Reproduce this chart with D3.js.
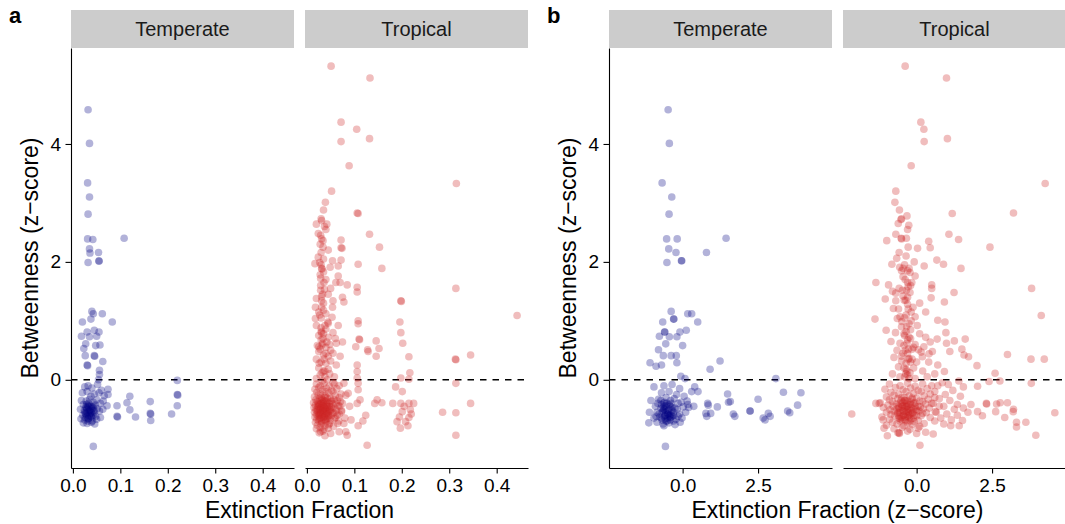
<!DOCTYPE html>
<html>
<head>
<meta charset="utf-8">
<title>Betweenness vs extinction fraction</title>
<script src="https://cdnjs.cloudflare.com/ajax/libs/d3/7.8.5/d3.min.js"></script>
<style>
  body { margin: 0; background: #fff; }
  text { font-family: "Liberation Sans", Arial, Helvetica, sans-serif; }
</style>
</head>
<body>
<div id="chart"></div>
<script>
// facets and ticks
var regions = ["Temperate", "Tropical"];
var fracTicks = [0, 0.1, 0.2, 0.3, 0.4];
var zTicks = [0, 2.5];
var btwTicks = [0, 2, 4];

// [extinction fraction, betweenness z]
var temperateFrac = [
  [0.032,4.58],[0.035,4.01],[0.031,3.34],[0.035,3.10],[0.032,2.81],[0.031,2.39],[0.042,2.38],[0.108,2.40],
  [0.035,2.22],[0.036,2.15],[0.054,2.16],[0.055,2.02],[0.055,2.01],[0.032,1.99],
  [0.040,1.16],[0.043,1.12],[0.062,1.12],[0.038,1.03],[0.020,0.98],[0.083,0.98],[0.030,0.81],[0.045,0.84],
  [0.055,0.81],[0.018,0.74],[0.035,0.73],[0.050,0.74],[0.027,0.61],[0.048,0.58],[0.023,0.53],[0.057,0.59],
  [0.045,0.41],[0.046,0.40],[0.026,0.41],[0.063,0.31],[0.030,0.25],[0.031,0.24],[0.056,0.16],[0.056,0.09],[0.054,0.00],
  [0.220,-0.01],[0.220,-0.25],[0.221,-0.26],[0.220,-0.44],[0.208,-0.58],[0.163,-0.37],[0.163,-0.57],[0.164,-0.58],
  [0.164,-0.69],[0.120,-0.28],[0.114,-0.39],[0.120,-0.51],[0.132,-0.63],[0.093,-0.44],[0.093,-0.62],[0.094,-0.63],
  [0.074,-0.16],[0.074,-0.25],[0.072,-0.44],[0.043,-1.13],
  [0.025,-0.12],[0.032,-0.10],[0.040,-0.14],[0.052,-0.08],[0.060,-0.18],[0.020,-0.22],[0.030,-0.20],[0.045,-0.24],
  [0.055,-0.22],[0.066,-0.27],[0.038,-0.28],[0.018,-0.35],[0.028,-0.36],[0.035,-0.33],[0.043,-0.38],[0.050,-0.34],
  [0.058,-0.40],[0.064,-0.36],[0.022,-0.42],[0.031,-0.44],[0.039,-0.45],[0.047,-0.43],[0.016,-0.50],[0.024,-0.52],
  [0.029,-0.48],[0.034,-0.53],[0.040,-0.50],[0.045,-0.55],[0.051,-0.49],[0.056,-0.53],[0.063,-0.50],[0.027,-0.57],
  [0.036,-0.58],[0.043,-0.60],[0.021,-0.60],[0.030,-0.62],[0.038,-0.55],[0.048,-0.62],[0.017,-0.66],[0.025,-0.68],
  [0.033,-0.66],[0.041,-0.70],[0.050,-0.67],[0.058,-0.64],[0.022,-0.73],[0.030,-0.74],[0.039,-0.72],[0.046,-0.75],
  [0.027,-0.46],[0.033,-0.40],[0.042,-0.48],[0.034,-0.61],[0.026,-0.64],[0.040,-0.64],[0.036,-0.45],[0.030,-0.55],
  [0.044,-0.52],[0.032,-0.70],
  [0.030,-0.50],[0.036,-0.52],[0.028,-0.58],[0.040,-0.57],[0.033,-0.46],[0.025,-0.55],[0.038,-0.62],[0.032,-0.66],
  [0.043,-0.45],[0.029,-0.42]
];

// [extinction fraction z, betweenness z]
var temperateZ = [
  [-0.48,4.58],[-0.44,4.01],[-0.68,3.34],[-0.36,3.10],[-0.45,2.81],[-0.53,2.39],[-0.18,2.39],[1.44,2.40],
  [-0.46,2.22],[-0.22,2.16],[0.79,2.16],[-0.04,2.02],[-0.03,2.02],[-0.52,1.99],
  [-0.38,1.16],[0.17,1.12],[0.30,1.12],[-0.30,1.03],[-0.29,1.03],[-0.66,0.98],[0.50,0.98],[-0.60,0.81],
  [-0.59,0.81],[-0.09,0.81],[0.12,0.84],[-0.77,0.74],[-0.44,0.73],[-0.19,0.73],[-0.56,0.61],[0.00,0.58],
  [-0.80,0.51],[-0.64,0.41],[-0.38,0.41],[-0.21,0.41],[-0.19,0.29],[-1.08,0.29],[-0.88,0.23],[-0.70,0.25],
  [0.91,0.18],[1.24,0.32],[-0.06,0.06],[0.08,0.02],[3.09,0.02],
  [3.34,-0.21],[3.92,-0.22],[1.49,-0.24],[0.30,-0.20],[0.51,-0.20],[0.40,-0.12],[2.50,-0.33],[1.52,-0.38],
  [1.58,-0.37],[0.83,-0.40],[1.15,-0.46],[3.81,-0.43],[3.48,-0.53],[2.23,-0.53],[2.24,-0.53],[1.68,-0.58],
  [0.77,-0.57],[0.93,-0.57],[2.84,-0.57],[2.67,-0.65],[-0.57,-1.13],[0.17,-0.42],[0.37,-0.45],[0.85,-0.43],
  [0.80,-0.62],[1.73,-0.62],[2.73,-0.68],[2.90,-0.62],[3.55,-0.56],
  [-0.95,-0.12],[-0.62,-0.10],[-0.35,-0.08],[-0.10,-0.15],[-0.70,-0.22],[-0.45,-0.20],[-0.20,-0.25],[0.05,-0.28],
  [-1.05,-0.35],[-0.80,-0.33],[-0.60,-0.38],[-0.40,-0.35],[-0.15,-0.40],[0.15,-0.36],[-0.90,-0.45],[-0.72,-0.48],
  [-0.55,-0.44],[-0.35,-0.47],[-0.18,-0.50],[0.02,-0.46],[-1.10,-0.55],[-0.85,-0.55],[-0.65,-0.53],[-0.50,-0.58],
  [-0.30,-0.55],[-0.10,-0.58],[0.10,-0.55],[-0.95,-0.65],[-0.75,-0.63],[-0.58,-0.66],[-0.40,-0.64],[-0.22,-0.67],
  [-0.02,-0.65],[-1.12,-0.73],[-0.85,-0.72],[-0.65,-0.75],[-0.45,-0.73],[-0.25,-0.76],[-0.08,-0.72],[-0.70,-0.42],
  [-0.62,-0.50],[-0.58,-0.60],[-0.48,-0.52],[-0.42,-0.60],[-0.78,-0.58],[-0.68,-0.68],[-0.52,-0.70],[-0.35,-0.62],
  [-0.55,-0.30],[-0.28,-0.32],[-0.82,-0.40],[-0.30,-0.70],[-0.15,-0.62],[-0.72,-0.35],[-0.45,-0.42],[-0.60,-0.45],
  [-0.88,-0.62],[0.20,-0.47],[-0.05,-0.38],[-0.62,-0.78],
  [-0.65,-0.48],[-0.55,-0.55],[-0.45,-0.50],[-0.38,-0.58],[-0.60,-0.62],[-0.50,-0.65],[-0.40,-0.45],[-0.30,-0.60],
  [-0.68,-0.55],[-0.52,-0.40],[-0.42,-0.68],[-0.58,-0.52],[-0.35,-0.52],[-0.62,-0.40],[-0.48,-0.58],[-0.25,-0.48],
  [-0.70,-0.65],[-0.55,-0.70],[-0.45,-0.62],[-0.38,-0.40]
];

var tropicalFrac = [
  [0.051,5.32],[0.133,5.12],[0.072,4.37],[0.105,4.25],[0.072,4.04],[0.132,4.09],[0.089,3.63],[0.315,3.33],
  [0.052,3.20],[0.039,3.01],[0.035,2.88],[0.106,2.83],[0.108,2.82],[0.030,2.73],[0.031,2.70],[0.020,2.64],
  [0.042,2.64],[0.132,2.47],[0.024,2.48],[0.031,2.39],[0.034,2.36],[0.072,2.37],[0.072,2.24],[0.074,2.23],
  [0.153,2.25],[0.030,2.16],[0.024,2.08],[0.017,1.97],[0.027,1.99],[0.031,1.89],[0.032,1.88],[0.035,1.83],
  [0.049,1.91],[0.054,2.02],[0.066,1.93],[0.072,2.03],[0.108,1.96],[0.158,1.89],[0.066,1.76],[0.061,1.65],
  [0.070,1.65],[0.085,1.61],[0.029,1.60],[0.029,1.52],[0.037,1.53],[0.031,1.41],[0.031,1.34],[0.106,1.57],
  [0.106,1.49],[0.075,1.40],[0.078,1.32],[0.055,1.34],[0.018,1.23],[0.031,1.23],[0.054,1.23],[0.018,1.04],
  [0.030,1.05],[0.053,1.06],[0.044,0.98],[0.045,0.96],[0.066,0.92],[0.030,0.88],[0.030,0.82],[0.108,1.00],
  [0.108,0.95],[0.198,1.34],[0.199,1.33],[0.314,1.55],[0.443,1.09],[0.196,0.98],[0.198,0.80],[0.202,0.62],
  [0.146,0.66],[0.110,0.69],[0.111,0.68],[0.042,0.64],[0.032,0.59],[0.025,0.56],[0.075,0.64],[0.103,0.56],
  [0.152,0.53],[0.128,0.51],
  [0.106,0.25],[0.106,0.14],[0.129,0.48],[0.146,0.40],[0.215,0.39],[0.217,0.12],[0.198,0.03],[0.215,0.01],
  [0.313,0.35],[0.314,0.34],[0.345,0.42],[0.314,-0.06],[0.345,-0.40],[0.314,-0.56],[0.286,-0.55],[0.314,-0.94],
  [0.187,-0.12],[0.201,-0.20],[0.198,-0.40],[0.201,-0.54],[0.195,-0.63],[0.215,-0.40],[0.218,-0.51],[0.215,-0.64],
  [0.208,-0.71],[0.190,-0.71],[0.197,-0.82],[0.213,-0.78],[0.225,-0.40],[0.205,-0.45],[0.220,-0.58],
  [0.148,-0.34],[0.158,-0.39],[0.143,-0.40],[0.181,-0.40],[0.106,0.03],[0.108,-0.06],[0.108,-0.17],[0.078,-0.06],
  [0.087,-0.23],[0.082,-0.26],[0.112,-0.34],[0.106,-0.40],[0.124,-0.60],[0.118,-0.70],[0.108,-0.78],[0.127,-1.11],
  [0.068,-0.88],[0.085,-0.94],[0.082,-0.88],[0.029,-0.88],[0.038,-0.95],
  [0.075,-0.40],[0.073,-0.52],[0.080,-0.65],[0.078,-0.74],[0.065,-0.74],[0.068,-0.58],[0.090,-0.45],[0.093,-0.68],
  [0.022,0.58],[0.033,0.62],[0.040,0.55],[0.048,0.60],[0.062,0.62],[0.025,0.48],[0.035,0.42],[0.045,0.40],
  [0.055,0.45],[0.050,0.50],[0.070,0.40],[0.020,0.35],[0.030,0.30],[0.040,0.28],[0.050,0.32],[0.062,0.25],
  [0.025,0.20],[0.035,0.15],[0.045,0.18],[0.028,0.08],[0.038,0.05],[0.048,0.10],[0.058,0.05],[0.020,0.02],
  [0.033,-0.02],[0.043,0.00],[0.055,-0.05],
  [0.025,0.75],[0.035,0.78],[0.045,0.72],[0.030,0.68],[0.055,0.80],[0.040,0.86],[0.020,0.92],[0.060,0.70],
  [0.025,1.15],[0.040,1.12],[0.045,1.45],[0.035,1.30],[0.020,1.38],[0.050,1.55],[0.040,1.70],[0.028,1.78],
  [0.040,2.55],[0.028,2.30],[0.045,2.20],[0.035,2.05],
  [0.032,0.12],[0.036,0.35],[0.028,0.52],[0.034,0.70],[0.038,0.92],[0.027,1.10],[0.033,1.45],[0.036,1.65],
  [0.030,1.95],[0.034,2.25],[0.029,2.45],[0.037,2.60],[0.026,0.28],[0.040,0.45],[0.031,0.80],[0.035,1.18],
  [0.029,1.72],[0.038,0.15],
  [0.020,-0.07],[0.028,-0.10],[0.036,-0.06],[0.047,-0.11],[0.058,-0.07],[0.068,-0.10],
  [0.017,-0.16],[0.025,-0.13],[0.033,-0.17],[0.041,-0.14],[0.052,-0.18],[0.063,-0.15],
  [0.021,-0.21],[0.029,-0.24],[0.038,-0.20],[0.046,-0.23],[0.055,-0.20],[0.072,-0.24],
  [0.016,-0.29],[0.024,-0.26],[0.031,-0.30],[0.039,-0.27],[0.049,-0.31],[0.060,-0.27],[0.068,-0.30],
  [0.019,-0.34],[0.027,-0.32],[0.035,-0.35],[0.043,-0.31],[0.052,-0.36],[0.057,-0.33],[0.064,-0.35],
  [0.014,-0.39],[0.022,-0.37],[0.030,-0.40],[0.037,-0.36],[0.044,-0.39],[0.050,-0.37],[0.061,-0.40],[0.071,-0.37],
  [0.018,-0.43],[0.026,-0.41],[0.033,-0.44],[0.041,-0.42],[0.047,-0.45],[0.055,-0.41],[0.066,-0.44],
  [0.015,-0.47],[0.023,-0.45],[0.029,-0.48],[0.036,-0.46],[0.043,-0.49],[0.051,-0.46],[0.059,-0.48],[0.069,-0.45],
  [0.019,-0.51],[0.026,-0.49],[0.032,-0.52],[0.039,-0.50],[0.046,-0.53],[0.053,-0.49],[0.062,-0.52],
  [0.016,-0.55],[0.022,-0.53],[0.029,-0.56],[0.035,-0.54],[0.042,-0.57],[0.049,-0.53],[0.057,-0.56],[0.073,-0.54],
  [0.020,-0.59],[0.027,-0.57],[0.033,-0.60],[0.040,-0.58],[0.046,-0.61],[0.054,-0.57],[0.064,-0.60],
  [0.017,-0.63],[0.024,-0.61],[0.030,-0.64],[0.037,-0.62],[0.044,-0.65],[0.051,-0.61],[0.060,-0.64],
  [0.021,-0.67],[0.028,-0.65],[0.035,-0.68],[0.042,-0.66],[0.050,-0.69],[0.058,-0.66],
  [0.018,-0.72],[0.025,-0.70],[0.032,-0.73],[0.040,-0.71],[0.048,-0.74],[0.067,-0.70],
  [0.022,-0.77],[0.030,-0.75],[0.038,-0.78],[0.046,-0.76],[0.056,-0.79],
  [0.020,-0.83],[0.028,-0.81],[0.036,-0.84],[0.045,-0.82],
  [0.026,-0.90],[0.034,-0.87],[0.050,-0.91],
  [0.024,-0.40],[0.031,-0.47],[0.038,-0.53],[0.027,-0.60],[0.034,-0.38],[0.040,-0.44],[0.045,-0.58],[0.028,-0.52],
  [0.036,-0.64],[0.032,-0.33],[0.041,-0.36],[0.025,-0.45],[0.048,-0.50],[0.033,-0.56],[0.039,-0.68],[0.029,-0.42],
  [0.044,-0.62],[0.022,-0.50],[0.037,-0.48],[0.030,-0.58],[0.035,-0.41],[0.042,-0.54],[0.026,-0.66],[0.047,-0.40],
  [0.031,-0.70],[0.038,-0.30],[0.024,-0.57],[0.043,-0.46],[0.034,-0.50],[0.029,-0.36]
];

var tropicalZ = [
  [-0.38,5.32],[0.99,5.12],[0.14,4.37],[0.24,4.25],[0.25,4.04],[1.02,4.09],[-0.18,3.63],[4.26,3.33],
  [-0.69,3.20],[-0.72,3.01],[-0.57,2.88],[-0.52,2.72],[-0.50,2.73],[-0.61,2.65],[1.18,2.82],[3.21,2.83],
  [-0.69,2.47],[-0.99,2.36],[-0.51,2.40],[-0.50,2.39],[1.07,2.47],[1.39,2.38],[2.43,2.25],[0.03,2.23],
  [0.45,2.24],[0.40,2.35],[-0.58,2.16],[-0.82,1.96],[-0.66,2.06],[-0.56,1.91],[-0.45,1.89],[-0.25,1.89],
  [-0.08,2.00],[0.25,1.93],[0.67,2.03],[0.89,1.96],[1.47,1.89],[-0.05,1.76],[-0.16,1.65],[-1.35,1.65],
  [-0.93,1.61],[-0.58,1.55],[-0.47,1.52],[-0.34,1.52],[-0.69,1.47],[0.50,1.61],[0.50,1.55],[0.48,1.39],
  [1.24,1.48],[0.92,1.32],[-1.04,1.37],[-0.69,1.34],[-0.41,1.35],[-0.77,1.21],[-0.12,1.23],[-1.38,1.03],
  [-0.64,1.04],[-0.55,1.07],[-0.05,1.07],[-1.01,0.84],[-0.50,0.90],[-0.49,0.99],[0.02,0.92],[0.70,1.01],
  [0.94,0.98],[0.97,0.80],[3.81,1.55],[4.13,1.09],[3.79,0.35],[4.23,0.35],[3.01,0.43],[2.00,0.24],
  [2.60,0.11],[1.61,0.69],[1.25,0.66],[0.99,0.62],[1.10,0.48],[1.50,0.52],[1.57,0.42],[1.72,0.39],
  [0.68,0.69],[0.45,0.64],[0.24,0.56],[0.52,0.48],[0.41,0.44],[0.06,0.51],[0.19,0.39],[0.92,0.14],
  [2.40,-0.03],[2.76,-0.02],[3.80,-0.06],[2.02,-0.11],
  [2.31,-0.40],[2.32,-0.41],[2.65,-0.41],[2.77,-0.39],[3.01,-0.39],[3.21,-0.50],[2.02,-0.54],[2.18,-0.61],
  [2.62,-0.54],[2.92,-0.64],[3.20,-0.54],[3.31,-0.72],[3.31,-0.80],[3.62,-0.72],[3.95,-0.94],[4.58,-0.56],
  [-2.15,-0.58],[0.11,-1.11],[0.30,-0.89],[0.55,-0.92],[-0.97,-0.95],[-1.08,-0.82],[-1.11,-0.68],[-0.58,-0.90],
  [-0.57,-0.91],[-1.24,-0.40],[-1.35,-0.40],[1.13,-0.78],[1.41,-0.78],[1.52,-0.69],
  [0.70,-0.10],[0.85,-0.05],[1.05,-0.08],[1.40,-0.02],[1.55,-0.12],[0.60,-0.20],[0.95,-0.25],[1.20,-0.18],
  [1.45,-0.28],[0.75,-0.32],[1.10,-0.35],[1.35,-0.42],[0.55,-0.40],[0.90,-0.45],[1.25,-0.50],[1.55,-0.48],
  [0.65,-0.55],[1.00,-0.58],[1.35,-0.60],[0.80,-0.65],[1.15,-0.68],[0.60,-0.70],[0.90,-0.75],[1.70,-0.55],
  [1.80,-0.42],
  [-0.70,0.80],[-0.40,0.75],[-0.20,0.85],[0.10,0.78],[-0.85,0.65],[-0.55,0.62],[-0.30,0.68],[-0.05,0.60],
  [0.30,0.72],[-0.65,0.50],[-0.45,0.45],[-0.15,0.52],[0.15,0.47],[-0.75,0.38],[-0.50,0.32],[-0.25,0.36],
  [0.00,0.30],[0.40,0.30],[-0.60,0.22],[-0.35,0.18],[-0.10,0.20],[0.20,0.15],[-0.80,0.10],[-0.55,0.05],
  [-0.30,0.08],[-0.05,0.02],[0.35,0.05],[0.70,0.25],[0.60,0.10],
  [-0.45,1.75],[-0.30,1.40],[-0.60,1.20],[-0.35,1.10],[-0.80,1.50],[-0.20,1.60],[0.10,1.30],[-0.50,1.85],[0.30,1.15],
  [-0.40,0.05],[-0.22,0.12],[-0.35,0.28],[-0.15,0.35],[-0.30,0.45],[-0.42,0.58],[-0.20,0.70],[-0.35,0.82],
  [-0.25,0.95],[-0.40,1.05],[-0.18,1.15],[-0.30,1.28],[-0.45,1.42],[-0.28,1.58],[-0.38,1.70],[-0.22,1.82],
  [-0.35,2.10],[-0.30,2.55],[-0.42,0.20],[-0.10,0.55],[-0.25,0.02],[-0.50,0.40],[-0.32,0.62],
  [-0.32,0.15],[-0.28,0.35],[-0.38,0.50],[-0.25,0.72],[-0.33,0.90],[-0.28,1.20],[-0.36,1.35],[-0.22,1.48],
  [-0.30,1.65],[-0.40,1.95],[-0.28,2.25],[-0.34,2.40],[-0.26,2.62],[-0.32,2.78],[-0.20,0.30],[-0.42,0.78],
  [-0.18,1.00],[-0.36,0.10],[-0.27,0.52],[-0.30,1.85],
  [-0.90,-0.07],[-0.55,-0.10],[-0.30,-0.06],[-0.05,-0.11],[0.20,-0.07],[0.50,-0.10],
  [-1.05,-0.16],[-0.70,-0.13],[-0.45,-0.17],[-0.20,-0.14],[0.05,-0.18],[0.35,-0.15],
  [-0.85,-0.21],[-0.60,-0.24],[-0.35,-0.20],[-0.10,-0.23],[0.15,-0.20],[0.45,-0.24],
  [-1.00,-0.29],[-0.75,-0.26],[-0.50,-0.30],[-0.25,-0.27],[0.00,-0.31],[0.25,-0.27],[0.60,-0.30],
  [-0.90,-0.34],[-0.62,-0.32],[-0.40,-0.35],[-0.15,-0.31],[0.10,-0.36],[0.38,-0.33],
  [-1.20,-0.39],[-0.80,-0.37],[-0.55,-0.40],[-0.30,-0.36],[-0.05,-0.39],[0.20,-0.37],[0.50,-0.40],
  [-0.95,-0.43],[-0.68,-0.41],[-0.45,-0.44],[-0.20,-0.42],[0.05,-0.45],[0.30,-0.41],
  [-1.10,-0.47],[-0.78,-0.45],[-0.58,-0.48],[-0.35,-0.46],[-0.12,-0.49],[0.12,-0.46],[0.42,-0.48],[0.75,-0.45],
  [-0.88,-0.51],[-0.65,-0.49],[-0.45,-0.52],[-0.25,-0.50],[0.00,-0.53],[0.22,-0.49],
  [-1.00,-0.55],[-0.75,-0.53],[-0.55,-0.56],[-0.35,-0.54],[-0.15,-0.57],[0.08,-0.53],[0.32,-0.56],[0.62,-0.54],
  [-0.85,-0.59],[-0.62,-0.57],[-0.42,-0.60],[-0.22,-0.58],[0.00,-0.61],[0.20,-0.57],
  [-1.15,-0.63],[-0.72,-0.61],[-0.50,-0.64],[-0.30,-0.62],[-0.10,-0.65],[0.15,-0.61],[0.45,-0.64],
  [-0.90,-0.67],[-0.60,-0.65],[-0.38,-0.68],[-0.18,-0.66],[0.05,-0.69],
  [-0.80,-0.72],[-0.55,-0.70],[-0.30,-0.73],[-0.08,-0.71],[0.25,-0.74],
  [-1.00,-0.77],[-0.65,-0.75],[-0.42,-0.78],[-0.15,-0.76],[0.10,-0.79],
  [-0.75,-0.83],[-0.48,-0.81],[-0.22,-0.84],[0.05,-0.82],
  [-0.62,-0.90],[-0.30,-0.87],[0.00,-0.91],
  [-0.40,-0.48],[-0.28,-0.55],[-0.50,-0.42],[-0.33,-0.40],[-0.18,-0.47],[-0.45,-0.60],[-0.25,-0.64],[-0.55,-0.52],
  [-0.38,-0.35],[-0.12,-0.55],[-0.60,-0.45],[-0.30,-0.50],[-0.20,-0.38],[-0.48,-0.68],[-0.35,-0.58],[-0.05,-0.44],
  [-0.42,-0.53],[-0.22,-0.70],[-0.58,-0.62],[-0.15,-0.33],[-0.32,-0.45],[-0.45,-0.38],[-0.08,-0.60],[-0.27,-0.42],
  [-0.52,-0.35],[-0.38,-0.63],[-0.18,-0.52],[-0.62,-0.55],[-0.02,-0.50],[-0.35,-0.70],[-0.48,-0.46],[-0.25,-0.60],
  [-0.40,-0.30],[-0.10,-0.40],[-0.55,-0.66]
];

var regionColor = { Temperate: "#000080", Tropical: "#cd2626" };

var width = 1065, height = 524;
var panelW = 223, gap = 11, panelTop = 48, panelBottom = 468;
var stripTop = 10;

var svg = d3.select("#chart").append("svg")
  .attr("width", width)
  .attr("height", height);

var y = d3.scaleLinear().domain([-1.496, 5.628]).range([panelBottom, panelTop]);

var figures = [
  { letter: "a", left: 71, xDomain: [-0.004, 0.466], ticks: fracTicks,
    xTitle: "Extinction Fraction", sets: [temperateFrac, tropicalFrac] },
  { letter: "b", left: 609, xDomain: [-2.44, 4.95], ticks: zTicks,
    xTitle: "Extinction Fraction (z\u2212score)", sets: [temperateZ, tropicalZ] }
];

figures.forEach(function(fig) {
  var g = svg.append("g").attr("class", "figure-" + fig.letter);

  regions.forEach(function(region, i) {
    var x0 = fig.left + i * (panelW + gap);
    var x = d3.scaleLinear().domain(fig.xDomain).range([x0, x0 + panelW]);

    // strip
    g.append("rect")
      .attr("x", x0).attr("y", stripTop)
      .attr("width", panelW).attr("height", panelTop - stripTop)
      .attr("fill", "#cccccc");
    g.append("text")
      .attr("x", x0 + panelW / 2).attr("y", 36)
      .attr("text-anchor", "middle")
      .attr("font-size", 20)
      .attr("fill", "#1a1a1a")
      .text(region);

    // zero line
    g.append("line")
      .attr("x1", x0).attr("x2", x0 + panelW)
      .attr("y1", y(0)).attr("y2", y(0))
      .attr("stroke", "#000")
      .attr("stroke-width", 1.5)
      .attr("stroke-dasharray", "6.5,6");

    g.append("g").selectAll("circle")
      .data(fig.sets[i])
      .enter().append("circle")
      .attr("cx", function(d) { return x(d[0]); })
      .attr("cy", function(d) { return y(d[1]); })
      .attr("r", 3.8)
      .attr("fill", regionColor[region])
      .attr("fill-opacity", 0.3);

    var xAxis = g.append("g")
      .attr("transform", "translate(0," + panelBottom + ")")
      .call(d3.axisBottom(x).tickValues(fig.ticks).tickFormat(d3.format(".1f"))
        .tickSize(5.5).tickSizeOuter(0).tickPadding(5));
    styleAxis(xAxis);

    if (i == 0) {
      var yAxis = g.append("g")
        .attr("transform", "translate(" + x0 + ",0)")
        .call(d3.axisLeft(y).tickValues(btwTicks).tickFormat(d3.format("d"))
          .tickSize(5.5).tickSizeOuter(0).tickPadding(4.5));
      styleAxis(yAxis);
    }
  });

  g.append("text")
    .attr("transform", "translate(" + (fig.left - 33) + "," + (panelTop + panelBottom) / 2 + ") rotate(-90)")
    .attr("text-anchor", "middle")
    .attr("font-size", 23)
    .text("Betweenness (z\u2212score)");

  g.append("text")
    .attr("x", fig.left + panelW + gap / 2)
    .attr("y", 518)
    .attr("text-anchor", "middle")
    .attr("font-size", 23)
    .text(fig.xTitle);

  g.append("text")
    .attr("x", fig.left - 62)
    .attr("y", 23)
    .attr("font-size", 22)
    .attr("font-weight", "bold")
    .text(fig.letter);
});

function styleAxis(sel) {
  sel.attr("font-size", null).attr("font-family", null);
  sel.select(".domain").attr("stroke", "#000").attr("stroke-width", 1.1);
  sel.selectAll(".tick line").attr("stroke", "#000").attr("stroke-width", 1.1);
  sel.selectAll(".tick text").attr("font-size", 19).attr("fill", "#000");
}
</script>
</body>
</html>
